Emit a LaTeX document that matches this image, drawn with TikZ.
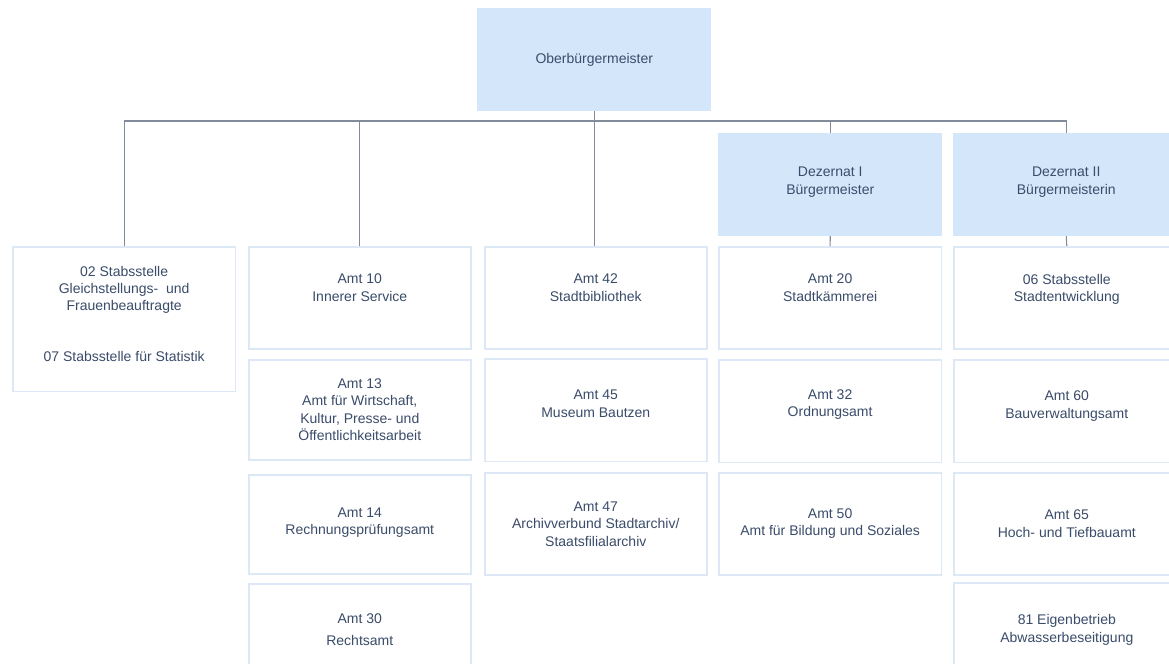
\documentclass[tikz,border=0pt]{standalone}
\usepackage{fontspec}
\setmainfont{Liberation Sans}
\usepackage{tikz}
\usetikzlibrary{positioning,calc}
\definecolor{kopfbg}{RGB}{212,231,250}
\definecolor{rahmen}{RGB}{220,232,245}
\definecolor{schrift}{RGB}{58,76,106}
\definecolor{linie}{RGB}{128,140,154}

\tikzset{
  kopf/.style={fill=kopfbg,draw=none,text=schrift,align=center,inner sep=0pt,
    minimum width=175.5pt,minimum height=77pt},
  amt/.style={draw=rahmen,line width=1.2pt,fill=white,text=schrift,align=center,
    inner sep=0pt,minimum width=166.5pt,minimum height=76.5pt,anchor=north west},
  oben/.style={text depth=15pt},
  link/.style={draw=linie,line width=0.8pt}
}

\begin{document}
\begin{tikzpicture}[x=0.75pt,y=-0.75pt,font=\fontsize{10.5}{13.1}\selectfont]
  \clip (0,0) rectangle (1169,663);
  % Leitung
  \node[kopf,anchor=north west] (ob) at (477,8) {Oberbürgermeister};
  \node[kopf,anchor=north west,minimum width=168pt,text depth=6pt] (dz1) at (718,133)
    {Dezernat I\\Bürgermeister};
  \node[kopf,anchor=north west,minimum width=169.5pt,text depth=6pt] (dz2) at (953,133)
    {Dezernat II\\Bürgermeisterin};
  % Stabsstellen links
  \node[amt,minimum width=167pt,minimum height=108.5pt,text depth=8pt] (st) at (12,246)
    {02 Stabsstelle\\Gleichstellungs-~ und\\Frauenbeauftragte\\[25pt]07 Stabsstelle für Statistik};
  % Spalte 2
  \node[amt,oben] (a10) at (248,246) {Amt 10\\Innerer Service};
  \node[amt,minimum height=75pt] (a13) at (248,359)
    {Amt 13\\Amt für Wirtschaft,\\Kultur, Presse- und\\Öffentlichkeitsarbeit};
  \node[amt,minimum height=74.5pt,text depth=5pt] (a14) at (248,474) {Amt 14\\Rechnungsprüfungsamt};
  \node[amt,minimum height=76.5pt,text depth=8pt] (a30) at (248,583) {Amt 30\\[3pt]Rechtsamt};
  % Spalte 3
  \node[amt,oben] (a42) at (484,246) {Amt 42\\Stadtbibliothek};
  \node[amt,minimum height=77pt,text depth=10pt] (a45) at (484,358) {Amt 45\\Museum Bautzen};
  \node[amt] (a47) at (484,472) {Amt 47\\Archivverbund Stadtarchiv/\\Staatsfilialarchiv};
  % Spalte 4 (Dezernat I)
  \node[amt,oben,minimum width=167pt] (a20) at (718,246) {Amt 20\\Stadtkämmerei};
  \node[amt,minimum width=167pt,minimum height=77pt,text depth=12pt] (a32) at (718,359) {Amt 32\\Ordnungsamt};
  \node[amt,minimum width=167pt] (a50) at (718,472) {Amt 50\\Amt für Bildung und Soziales};
  % Spalte 5 (Dezernat II)
  \node[amt,oben,minimum width=169.5pt] (s06) at (953,246) {06 Stabsstelle\\Stadtentwicklung};
  \node[amt,minimum width=169.5pt,minimum height=77pt,text depth=10pt] (a60) at (953,359) {Amt 60\\Bauverwaltungsamt};
  \node[amt,minimum width=169.5pt] (a65) at (953,472) {Amt 65\\Hoch- und Tiefbauamt};
  \node[amt,minimum width=169.5pt,text depth=8pt] (e81) at (953,582) {81 Eigenbetrieb\\Abwasserbeseitigung};
  % Verbindungen
  \coordinate (bus) at (594,121);
  \draw[link] (st.north) -- (st.north |- bus) -| (dz2.north);
  \draw[link] (a10.north) -- (a10.north |- bus);
  \draw[link] (dz1.north) -- (dz1.north |- bus);
  \draw[link] (ob.south) -- (ob.south |- a42.north);
  \draw[link] (dz1.south) -- (a20.north);
  \draw[link] (dz2.south) -- (s06.north);
\end{tikzpicture}
\end{document}
